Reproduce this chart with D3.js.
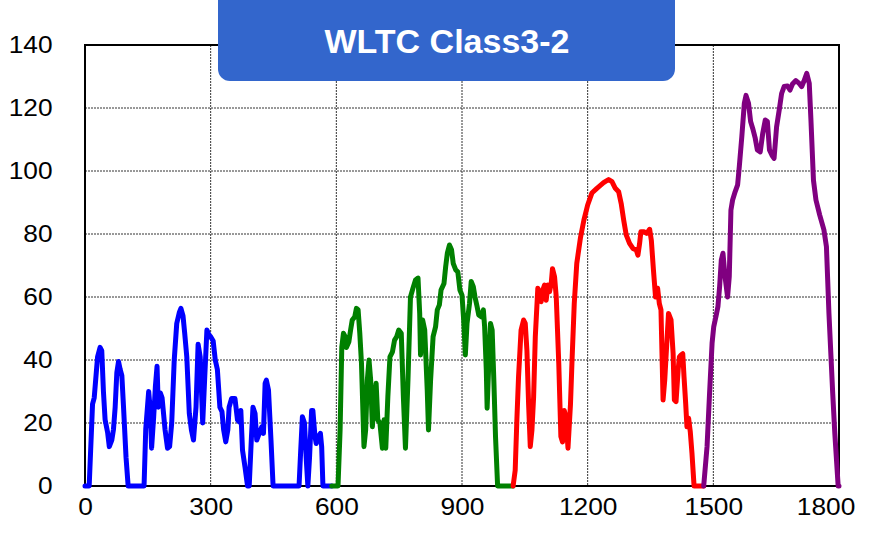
<!DOCTYPE html>
<html>
<head>
<meta charset="utf-8">
<script src="https://cdn.jsdelivr.net/npm/d3@7"></script>
<style>
  html, body { margin: 0; padding: 0; background: #fff; }
  svg { display: block; }
</style>
</head>
<body>
<svg id="chart" width="875" height="533"></svg>
<script>
// ---- data (time [s], speed [km/h]) ----
const titleText = "WLTC Class3-2";
const xTicks = [0, 300, 600, 900, 1200, 1500, 1800];
const yTicks = [0, 20, 40, 60, 80, 100, 120, 140];

const lowPhase = [[0,0],[10,0],[18,26],[22,28],[30,41],[36,44],[40,43],[44,30],[48,21],[54,17],[58,12.5],[64,14.6],[68,18],[72,25],[76,36],[80,39.5],[84,37],[88,35],[92,25],[98,9],[103,0],[141,0],[145,18],[152,30],[156,24],[159,12],[164,22],[168,31.5],[172,38],[175,25],[180,29.5],[184,28],[191,18],[197,12],[202,12.5],[207,20],[213,40],[219,51.6],[225,55],[229,56.4],[234,54],[238,48.5],[243,41],[249,23],[254,17.8],[259,14.6],[265,25],[270,45],[275,41],[281,20],[286,35],[291,49.5],[296,48],[300,47.4],[306,46],[311,40],[316,37],[322,25],[327,23.6],[331,17.8],[336,14],[341,17.8],[344,25],[350,27.8],[358,27.8],[364,21],[368,20.4],[372,24],[376,11.4],[382,6],[388,0],[392,0],[397,14.6],[401,25],[406,23],[410,14.6],[416,16.7],[422,18.8],[426,16.7],[430,32.6],[433,33.6],[438,30.5],[444,14.6],[449,0],[511,0],[515,11.4],[519,22],[524,20],[528,9],[532,0],[536,9],[541,24],[544,24],[549,15.7],[552,13.5],[557,15.7],[562,16.7],[565,12.5],[568,0],[589,0]];

const mediumPhase = [[589,0],[604,0],[609,17.8],[613,44],[617,48.5],[621,47.4],[624,44],[630,45.8],[634,49.5],[638,52.7],[644,53.7],[648,56.4],[652,55.9],[656,48.5],[660,39],[666,12.5],[670,17.8],[674,33.6],[678,40],[682,33.6],[686,18.8],[690,26],[695,32.6],[699,21],[704,20],[710,12],[714,21],[718,12],[723,28.4],[728,41],[734,42.6],[739,46.3],[744,47.4],[749,49.5],[755,48.5],[760,28.4],[765,12],[771,33.6],[777,60],[783,62.8],[789,65.4],[795,66],[799,54.8],[801,41.6],[806,52.7],[811,49.5],[817,30.5],[820,17.8],[825,33.6],[831,47.4],[837,50.6],[841,55.9],[846,57.5],[850,62.2],[857,64.3],[861,69.6],[865,73.9],[870,76.5],[875,75],[879,70.7],[885,68.6],[890,68],[895,62.2],[900,60.6],[904,52.7],[908,41.6],[912,51.6],[918,58],[922,64.9],[927,63.3],[931,60],[936,57],[940,54.3],[946,53.7],[951,55.9],[954,50.6],[958,36.8],[960,24.7],[964,39],[968,51.6],[972,49.5],[976,33.6],[980,15.7],[985,0],[1022,0]];

const highPhase = [[1022,0],[1027,5],[1031,21],[1035,34.7],[1041,49.5],[1047,52.7],[1051,51.6],[1055,43],[1059,26],[1063,12.5],[1067,17.8],[1071,28.4],[1075,47.4],[1081,62.8],[1086,61.2],[1089,58.5],[1093,62.2],[1097,63.8],[1101,59],[1105,63.8],[1109,61.7],[1113,64.3],[1116,69],[1121,66.4],[1125,60],[1131,39],[1136,15.7],[1140,14],[1144,24],[1148,22],[1153,12],[1159,26],[1163,41],[1168,58],[1174,70.7],[1183,79],[1191,84.4],[1200,89.2],[1210,93],[1222,94.5],[1238,96.3],[1250,97.3],[1258,96.6],[1266,94.5],[1274,93.4],[1280,89.7],[1286,84.4],[1292,79.7],[1300,77],[1308,75.4],[1316,74.9],[1320,73.3],[1324,77],[1327,80.7],[1335,80.7],[1341,80.2],[1348,81.5],[1352,78],[1357,68.6],[1362,60],[1367,62.8],[1371,58],[1375,55.9],[1380,27.3],[1384,33.6],[1388,43.2],[1393,54.8],[1399,52.7],[1404,42],[1407,27.3],[1411,26.8],[1416,36.8],[1419,41],[1423,41.6],[1427,42],[1430,34.7],[1434,26.2],[1437,18.8],[1441,21.5],[1445,17.2],[1449,10.4],[1454,0],[1477,0]];

const extraHighPhase = [[1477,0],[1485,12.5],[1491,29.4],[1497,45.3],[1501,50.6],[1507,54.3],[1511,57],[1515,63.3],[1519,71.7],[1523,73.9],[1528,66.4],[1534,60],[1538,66.4],[1542,87.6],[1546,90.8],[1552,93.4],[1558,95.6],[1562,101.4],[1568,110.9],[1574,121.5],[1578,124],[1584,121.5],[1589,115.7],[1594,113.5],[1600,110.4],[1605,106.7],[1612,106.1],[1618,112],[1624,116.2],[1629,115.7],[1634,106.7],[1640,105],[1645,104],[1651,114],[1658,120],[1663,124.6],[1669,126.8],[1677,127],[1683,125.7],[1689,127.6],[1697,128.7],[1705,127.8],[1711,126.8],[1716,128.4],[1723,131],[1729,127.8],[1733,116.2],[1739,97.1],[1745,90.8],[1754,86],[1764,81.3],[1770,76],[1776,54.8],[1785,29.4],[1790,16.7],[1798,0],[1800,0]];

const phases = [
  { data: lowPhase, color: "#0000FF" },
  { data: mediumPhase, color: "#008000" },
  { data: highPhase, color: "#FF0000" },
  { data: extraHighPhase, color: "#800080" }
];

// ---- layout ----
const svg = d3.select("#chart");
const plotL = 85, plotR = 839, plotT = 45, plotB = 486;
const x = d3.scaleLinear().domain([0, 1800]).range([plotL, plotR]);
const y = d3.scaleLinear().domain([0, 140]).range([plotB, plotT]);
const font = "'Liberation Sans', Arial, sans-serif";
const stretch = 1.12;

// gridlines
const grid = svg.append("g");
grid.selectAll("line.v").data(xTicks.filter(d => d > 0 && d < 1800)).enter()
  .append("line")
  .attr("x1", d => x(d)).attr("x2", d => x(d))
  .attr("y1", plotT).attr("y2", plotB)
  .attr("stroke", "#333").attr("stroke-width", 1).attr("stroke-dasharray", "2,1");
grid.selectAll("line.h").data(yTicks.filter(d => d > 0 && d < 140)).enter()
  .append("line")
  .attr("x1", plotL).attr("x2", plotR)
  .attr("y1", d => y(d)).attr("y2", d => y(d))
  .attr("stroke", "#333").attr("stroke-width", 1).attr("stroke-dasharray", "2,1");

// frame
svg.append("rect")
  .attr("x", plotL).attr("y", plotT)
  .attr("width", plotR - plotL).attr("height", plotB - plotT)
  .attr("fill", "none").attr("stroke", "#000").attr("stroke-width", 2);

// axes (labels only)
const xAxis = d3.axisBottom(x).tickValues(xTicks).tickSize(0).tickPadding(12).tickFormat(d3.format("d"));
const gx = svg.append("g").attr("transform", `translate(0,${plotB})`).call(xAxis);
gx.select(".domain").remove();
gx.selectAll("text").attr("font-family", font).attr("font-size", 23.5).attr("fill", "#000")
  .attr("transform", `scale(${stretch},1)`)
  .attr("dx", d => d === 1800 ? -12 : 0);

const yAxis = d3.axisLeft(y).tickValues(yTicks).tickSize(0).tickPadding(29).tickFormat(d3.format("d"));
const gy = svg.append("g").attr("transform", `translate(${plotL},0)`).call(yAxis);
gy.select(".domain").remove();
gy.selectAll("text").attr("font-family", font).attr("font-size", 23.5).attr("fill", "#000")
  .attr("transform", `scale(${stretch},1)`);

// lines
const line = d3.line().x(d => x(d[0])).y(d => y(d[1]));
svg.append("g").selectAll("path").data(phases).enter()
  .append("path")
  .attr("d", d => line(d.data))
  .attr("fill", "none")
  .attr("stroke", d => d.color)
  .attr("stroke-width", 5)
  .attr("stroke-linejoin", "round")
  .attr("stroke-linecap", "round");

// title box
svg.append("rect")
  .attr("x", 218).attr("y", -12)
  .attr("width", 457).attr("height", 93)
  .attr("rx", 12).attr("ry", 12)
  .attr("fill", "#3366CC");
svg.append("text")
  .attr("x", 447).attr("y", 53)
  .attr("text-anchor", "middle")
  .attr("font-family", font)
  .attr("font-weight", "bold")
  .attr("font-size", 34)
  .attr("fill", "#fff")
  .text(titleText);
</script>
</body>
</html>
